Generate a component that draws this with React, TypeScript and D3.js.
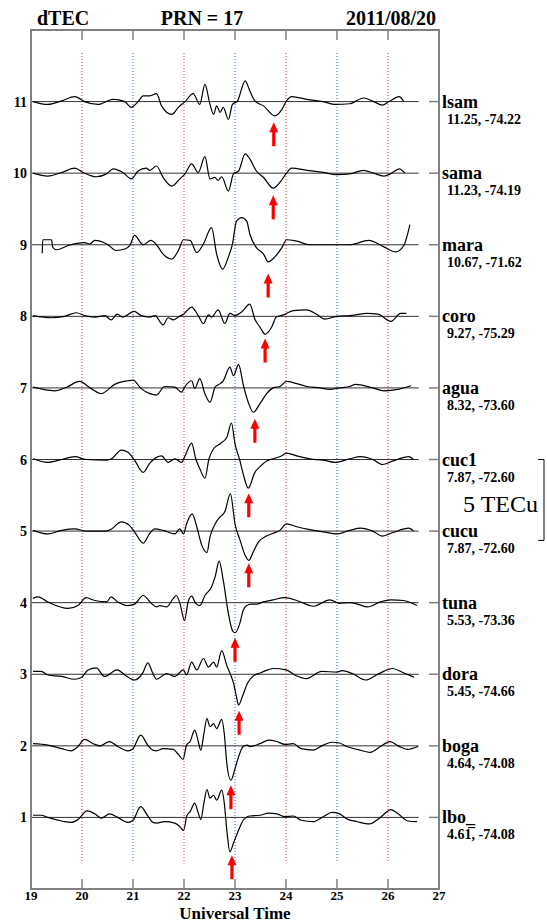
import React, { useEffect, useRef } from 'react';
import * as d3 from 'd3';

// axis ticks
const hourTicks = [19, 20, 21, 22, 23, 24, 25, 26, 27];
const offsetTicks = [1, 2, 3, 4, 5, 6, 7, 8, 9, 10, 11];
const redHours = [20, 22, 24, 26];
const blueHours = [21, 23, 25];

// stations, top to bottom
const stationNames = ['lsam', 'sama', 'mara', 'coro', 'agua', 'cuc1', 'cucu', 'tuna', 'dora', 'boga', 'lbo_'];
const stationCoords = [
  '11.25, -74.22', '11.23, -74.19', '10.67, -71.62', '9.27, -75.29', '8.32, -73.60',
  '7.87, -72.60', '7.87, -72.60', '5.53, -73.36', '5.45, -74.66', '4.64, -74.08', '4.61\u0305, -74.08'
];
const stationOffsets = [11, 10, 9, 8, 7, 6, 5, 4, 3, 2, 1];
const arrowHours = [23.76, 23.75, 23.65, 23.59, 23.39, 23.27, 23.27, 23.0, 23.08, 22.92, 22.94];
const arrowTips = [-0.29, -0.31, -0.40, -0.31, -0.43, -0.47, -0.45, -0.49, -0.51, -0.55, -0.53];

// dTEC traces [UT hour, dTEC in plot units]
const lsam = [[19.04,0],[19.33,-0.04],[19.6,0.01],[19.86,0.07],[20.05,0],[20.31,-0.04],[20.61,0.03],[20.84,0],[20.96,-0.08],[21.1,0],[21.2,0.08],[21.33,0.08],[21.46,0.11],[21.56,-0.06],[21.76,-0.18],[21.89,-0.08],[22.02,0],[22.18,0.11],[22.31,-0.04],[22.41,0.24],[22.51,-0.04],[22.58,-0.18],[22.64,-0.06],[22.71,-0.15],[22.77,-0.08],[22.87,-0.25],[22.95,-0.04],[23.05,0.01],[23.2,0.29],[23.29,0.15],[23.39,0.01],[23.56,-0.06],[23.78,-0.2],[23.92,-0.11],[24.01,0.01],[24.11,0.07],[24.41,0.03],[24.73,0],[24.96,-0.04],[25.25,-0.03],[25.52,0.05],[25.72,0],[25.89,-0.05],[26.02,0],[26.22,0.07],[26.31,0]];
const sama = [[19.04,0],[19.33,-0.04],[19.6,0.01],[19.86,0.07],[20.02,0.01],[20.28,-0.05],[20.48,-0.01],[20.61,0.06],[20.8,0.01],[20.97,-0.08],[21.1,0.03],[21.26,0.07],[21.33,0.04],[21.46,0.1],[21.59,-0.06],[21.76,-0.18],[21.92,-0.08],[22.02,-0.01],[22.15,0.13],[22.28,0.01],[22.41,0.23],[22.51,-0.08],[22.6,-0.06],[22.67,-0.1],[22.74,-0.05],[22.87,-0.25],[22.97,-0.01],[23.07,0.03],[23.2,0.27],[23.29,0.2],[23.42,0.03],[23.56,-0.06],[23.75,-0.21],[23.88,-0.13],[24.01,0],[24.11,0.07],[24.41,0.04],[24.73,0.01],[24.99,-0.02],[25.25,-0.01],[25.52,0.04],[25.72,0],[25.92,-0.04],[26.05,-0.01],[26.22,0.06],[26.33,0]];
const mara = [[19.22,-0.12],[19.23,0.07],[19.4,0.07],[19.43,-0.04],[19.5,-0.07],[19.73,-0.01],[20.05,0.03],[20.15,0.01],[20.25,0.06],[20.51,0],[20.67,-0.08],[20.84,-0.06],[20.94,-0.01],[21.03,0.13],[21.2,0],[21.35,0.06],[21.46,0],[21.59,-0.13],[21.76,-0.2],[21.89,-0.08],[21.99,0.07],[22.12,0.06],[22.25,-0.11],[22.38,0.01],[22.54,0.24],[22.64,-0.13],[22.76,-0.34],[22.87,-0.17],[22.95,0.01],[23.03,0.33],[23.13,0.38],[23.23,0.33],[23.29,0.15],[23.42,-0.04],[23.56,-0.13],[23.65,-0.24],[23.78,-0.17],[23.92,-0.04],[24.01,0.07],[24.21,0.05],[24.47,0],[24.8,0],[25.25,0],[25.62,0.06],[25.92,-0.03],[26.15,-0.1],[26.31,-0.01],[26.43,0.28]];
const coro = [[19.04,0.01],[19.4,-0.02],[19.66,0],[19.89,0.05],[20.05,0.01],[20.25,-0.01],[20.45,0.01],[20.57,-0.05],[20.69,0.03],[20.8,-0.01],[21.02,0.07],[21.16,0.01],[21.33,-0.01],[21.43,0.01],[21.59,-0.12],[21.69,-0.02],[21.79,-0.05],[21.89,-0.01],[21.99,0.03],[22.15,0.13],[22.28,0.01],[22.38,-0.1],[22.48,0.02],[22.54,-0.01],[22.67,0.09],[22.8,-0.1],[22.9,0.04],[23.0,0.01],[23.13,0.06],[23.29,0.17],[23.39,-0.04],[23.49,-0.15],[23.59,-0.25],[23.72,-0.15],[23.81,-0.01],[23.95,0.02],[24.14,0.08],[24.4,0.09],[24.6,0.03],[24.76,-0.04],[24.99,0],[25.25,0.01],[25.6,0.04],[25.8,0.03],[26.06,-0.07],[26.25,0.04],[26.36,0.04]];
const agua = [[19.04,0.01],[19.46,-0.04],[19.7,0.01],[19.95,0.09],[20.18,-0.01],[20.38,-0.08],[20.64,0.05],[20.9,0.1],[21.0,0.11],[21.16,-0.01],[21.33,-0.08],[21.46,-0.1],[21.62,0.02],[21.82,0.01],[21.95,-0.06],[22.02,0.02],[22.15,0.1],[22.21,-0.01],[22.31,0.13],[22.41,-0.08],[22.51,-0.2],[22.61,0.01],[22.71,0.06],[22.77,0.1],[22.9,0.29],[22.97,0.17],[23.07,0.33],[23.16,0.05],[23.26,-0.2],[23.36,-0.34],[23.49,-0.22],[23.62,-0.08],[23.75,0],[23.88,0.02],[24.01,0.09],[24.21,0.06],[24.41,0.02],[24.67,0],[24.86,-0.02],[25.05,0],[25.25,0.02],[25.36,0.05],[25.7,0],[25.92,-0.04],[26.2,-0.02],[26.45,0.03]];
const cuc1 = [[19.04,0.01],[19.33,-0.04],[19.6,0],[19.86,0.04],[20.08,0],[20.48,-0.01],[20.58,0.01],[20.77,0.13],[20.9,0.1],[21.03,-0.01],[21.2,-0.18],[21.33,-0.05],[21.46,0.03],[21.56,0.05],[21.69,-0.04],[21.82,0.01],[21.95,-0.04],[22.02,0.05],[22.15,0.23],[22.23,0.01],[22.31,-0.13],[22.41,-0.26],[22.49,0.01],[22.58,0.15],[22.71,0.22],[22.84,0.31],[22.93,0.51],[23.0,0.22],[23.09,0],[23.16,-0.2],[23.26,-0.4],[23.39,-0.18],[23.49,-0.1],[23.62,-0.02],[23.75,0.01],[23.91,0.05],[24.01,0.09],[24.21,0.05],[24.47,0.01],[24.73,-0.01],[24.96,-0.04],[25.25,0.01],[25.46,0.04],[25.7,0],[25.89,-0.07],[26.1,-0.02],[26.41,0.04],[26.5,0]];
const cucu = [[19.04,0.01],[19.33,-0.04],[19.6,0.01],[19.86,0.03],[20.08,0],[20.48,0],[20.58,0.03],[20.77,0.13],[20.93,0.08],[21.03,-0.01],[21.2,-0.17],[21.33,-0.03],[21.43,0.03],[21.59,0.01],[21.82,-0.04],[21.92,0.03],[21.99,-0.04],[22.05,0.1],[22.16,0.24],[22.25,0.06],[22.35,-0.2],[22.45,-0.3],[22.51,-0.08],[22.61,0.1],[22.71,0.2],[22.8,0.27],[22.91,0.52],[23.0,0.1],[23.1,-0.13],[23.2,-0.34],[23.27,-0.41],[23.36,-0.29],[23.46,-0.15],[23.59,-0.08],[23.75,-0.03],[23.88,0.01],[24.01,0.1],[24.21,0.06],[24.47,0.02],[24.73,-0.01],[24.99,-0.04],[25.25,0.01],[25.46,0.04],[25.7,0],[25.89,-0.07],[26.1,-0.02],[26.41,0.04],[26.5,0]];
const tuna = [[19.04,0.06],[19.14,0.08],[19.33,0.01],[19.73,-0.08],[19.92,-0.04],[20.08,0.07],[20.25,0.03],[20.48,0.01],[20.57,0.08],[20.7,0.01],[20.9,-0.04],[21.03,-0.02],[21.2,0.1],[21.36,-0.01],[21.46,-0.06],[21.52,-0.04],[21.66,-0.06],[21.79,0.06],[21.85,0.1],[21.92,-0.01],[22.01,-0.25],[22.08,0.01],[22.15,0.09],[22.23,-0.01],[22.31,-0.04],[22.41,0.1],[22.54,0.22],[22.61,0.36],[22.69,0.58],[22.77,0.31],[22.87,-0.15],[22.95,-0.39],[23.0,-0.42],[23.09,-0.3],[23.16,-0.11],[23.23,-0.04],[23.32,-0.02],[23.42,-0.02],[23.56,0.01],[23.75,0.04],[23.98,0.07],[24.21,0.03],[24.54,-0.05],[24.86,0.04],[25.05,-0.01],[25.25,0],[25.4,-0.02],[25.6,-0.06],[25.85,0.01],[26.06,0.04],[26.3,0.03],[26.57,-0.04]];
const dora = [[19.04,0.04],[19.2,0.04],[19.33,-0.01],[19.6,-0.03],[19.86,-0.07],[19.98,-0.05],[20.12,0.06],[20.28,0.09],[20.44,-0.03],[20.69,0.06],[20.84,-0.01],[21.03,-0.08],[21.2,0.03],[21.29,0.16],[21.39,0.01],[21.46,-0.07],[21.66,0.01],[21.82,-0.03],[21.99,0.06],[22.05,-0.01],[22.15,0.17],[22.25,0.06],[22.38,0.22],[22.48,0.1],[22.58,0.17],[22.64,0.1],[22.74,0.33],[22.84,0.12],[22.91,0],[22.97,-0.12],[23.03,-0.32],[23.07,-0.43],[23.15,-0.3],[23.25,-0.12],[23.35,-0.03],[23.5,0.02],[23.6,0.05],[23.75,0.08],[24.0,0.06],[24.2,-0.02],[24.4,-0.06],[24.7,0.04],[25.0,0.03],[25.1,0.05],[25.3,0.01],[25.56,-0.08],[25.8,0],[26.09,0.08],[26.3,0.02],[26.51,-0.04]];
const boga = [[19.04,0.03],[19.33,0.01],[19.6,-0.04],[19.79,-0.07],[19.92,-0.01],[20.05,0.09],[20.22,0.03],[20.35,0],[20.54,0.06],[20.7,-0.01],[20.9,-0.07],[21.0,-0.04],[21.15,0.15],[21.29,0.01],[21.39,-0.06],[21.46,-0.07],[21.59,-0.04],[21.79,-0.05],[21.89,-0.12],[21.98,-0.19],[22.05,0.01],[22.12,0.06],[22.21,0.22],[22.28,0.06],[22.33,-0.06],[22.39,0.17],[22.45,0.38],[22.51,0.27],[22.58,0.31],[22.64,0.24],[22.74,0.37],[22.79,0.17],[22.84,-0.25],[22.92,-0.48],[23.0,-0.32],[23.09,-0.11],[23.16,-0.01],[23.24,0.01],[23.29,-0.01],[23.49,0.03],[23.66,0.08],[23.82,0.06],[23.98,0.02],[24.14,0.03],[24.3,-0.04],[24.53,-0.06],[24.73,0.01],[24.9,0.05],[25.05,0.04],[25.19,-0.01],[25.4,-0.05],[25.65,-0.09],[25.85,-0.01],[26.04,0.06],[26.2,0],[26.38,-0.05],[26.59,-0.01]];
const lbo = [[19.04,0.03],[19.2,0.03],[19.33,0],[19.6,-0.05],[19.79,-0.07],[19.92,-0.03],[20.1,0.09],[20.25,0.05],[20.38,-0.01],[20.54,0.05],[20.7,0],[20.9,-0.07],[21.0,-0.04],[21.15,0.15],[21.29,0.02],[21.39,-0.07],[21.46,-0.08],[21.62,-0.06],[21.82,-0.08],[21.92,-0.13],[21.99,-0.18],[22.06,0.03],[22.12,0.08],[22.21,0.2],[22.28,0.06],[22.33,-0.03],[22.39,0.2],[22.45,0.39],[22.51,0.27],[22.58,0.31],[22.64,0.24],[22.74,0.38],[22.79,0.2],[22.84,-0.18],[22.9,-0.48],[22.97,-0.36],[23.07,-0.18],[23.16,-0.04],[23.24,0.01],[23.29,0.02],[23.49,0.03],[23.66,0.06],[23.82,0.05],[23.98,0.01],[24.14,0.02],[24.3,-0.04],[24.53,-0.06],[24.73,0.01],[24.9,0.07],[25.05,0.05],[25.19,-0.02],[25.4,-0.06],[25.64,-0.09],[25.85,0],[26.06,0.11],[26.2,0.05],[26.39,-0.05],[26.57,-0.06]];
const traces = [lsam, sama, mara, coro, agua, cuc1, cucu, tuna, dora, boga, lbo];

const baselineEnd = 26.6;
const dottedRange = [0.36, 11.68];
const scaleBar = [6, 4.87];

const App = () => {
  const ref = useRef<SVGSVGElement | null>(null);

  useEffect(() => {
    const svg = d3.select(ref.current);
    svg.selectAll('*').remove();

    const left = 31, right = 439, top = 30, bottom = 889;
    const x = d3.scaleLinear().domain([19, 27]).range([left, right]);
    const y = d3.scaleLinear().domain([0, 12]).range([bottom, top]);
    const serif = '"Liberation Serif", "Times New Roman", serif';
    const frameColor = '#808080';

    // dotted hour guides
    const guides = [
      ...redHours.map((h) => ({ h, c: '#ff4d4d' })),
      ...blueHours.map((h) => ({ h, c: '#3a7bff' })),
    ];
    svg.append('g').selectAll('line').data(guides).enter().append('line')
      .attr('x1', (d) => x(d.h)).attr('x2', (d) => x(d.h))
      .attr('y1', y(dottedRange[1])).attr('y2', y(dottedRange[0]))
      .attr('stroke', (d) => d.c).attr('stroke-width', 1.2)
      .attr('stroke-dasharray', '1,2');

    // baselines
    svg.append('g').selectAll('line').data(stationOffsets).enter().append('line')
      .attr('x1', x(19)).attr('x2', x(baselineEnd))
      .attr('y1', (d) => y(d)).attr('y2', (d) => y(d))
      .attr('stroke', '#333').attr('stroke-width', 1);

    // traces
    traces.forEach((tr, i) => {
      const off = stationOffsets[i];
      const line = d3.line<number[]>()
        .x((d) => x(d[0]))
        .y((d) => y(off + d[1]))
        .curve(d3.curveMonotoneX);
      svg.append('path').attr('d', line(tr))
        .attr('fill', 'none').attr('stroke', '#000').attr('stroke-width', 1.2);
    });

    // red arrows
    svg.append('g').selectAll('path').data(arrowHours).enter().append('path')
      .attr('d', (h, i) => {
        const tx = x(h);
        const ty = y(stationOffsets[i] + arrowTips[i]);
        return `M${tx},${ty} L${tx + 4.5},${ty + 10} L${tx + 1.6},${ty + 10} L${tx + 1.6},${ty + 24}` +
          ` L${tx - 1.6},${ty + 24} L${tx - 1.6},${ty + 10} L${tx - 4.5},${ty + 10} Z`;
      })
      .attr('fill', '#ff0000');

    // frame
    svg.append('rect').attr('x', left).attr('y', top)
      .attr('width', right - left).attr('height', bottom - top)
      .attr('fill', 'none').attr('stroke', frameColor).attr('stroke-width', 2);

    // top and bottom hour ticks
    const inner = hourTicks.slice(1, -1);
    svg.append('g').selectAll('line').data(inner).enter().append('line')
      .attr('x1', (d) => x(d)).attr('x2', (d) => x(d))
      .attr('y1', top).attr('y2', top + 10)
      .attr('stroke', frameColor).attr('stroke-width', 1.5);
    svg.append('g').selectAll('line').data(inner).enter().append('line')
      .attr('x1', (d) => x(d)).attr('x2', (d) => x(d))
      .attr('y1', bottom).attr('y2', bottom - 10)
      .attr('stroke', frameColor).attr('stroke-width', 1.5);

    // right side ticks
    svg.append('g').selectAll('line').data(offsetTicks).enter().append('line')
      .attr('x1', right - 10).attr('x2', right)
      .attr('y1', (d) => y(d)).attr('y2', (d) => y(d))
      .attr('stroke', frameColor).attr('stroke-width', 1.5);

    // hour labels
    svg.append('g').selectAll('text').data(hourTicks).enter().append('text')
      .attr('x', (d) => x(d)).attr('y', 900)
      .attr('text-anchor', 'middle')
      .style('font-family', serif).style('font-size', '13px').style('font-weight', 'bold')
      .text((d) => d);

    svg.append('text').attr('x', x(23)).attr('y', 919)
      .attr('text-anchor', 'middle')
      .style('font-family', serif).style('font-size', '17px').style('font-weight', 'bold')
      .text('Universal Time');

    // offset labels
    svg.append('g').selectAll('text').data(offsetTicks).enter().append('text')
      .attr('x', 27).attr('y', (d) => y(d) + 5)
      .attr('text-anchor', 'end')
      .style('font-family', serif).style('font-size', '14px').style('font-weight', 'bold')
      .text((d) => d);

    // station names and coordinates
    svg.append('g').selectAll('text').data(stationNames).enter().append('text')
      .attr('x', right + 3).attr('y', (d, i) => y(stationOffsets[i]) + 6)
      .style('font-family', serif).style('font-size', '18px').style('font-weight', 'bold')
      .text((d) => d);
    svg.append('g').selectAll('text').data(stationCoords).enter().append('text')
      .attr('x', right + 8).attr('y', (d, i) => y(stationOffsets[i]) + 22)
      .style('font-family', serif).style('font-size', '14px').style('font-weight', 'bold')
      .text((d) => d);

    // header
    const header = [
      { t: 'dTEC', x: 37, a: 'start' },
      { t: 'PRN = 17', x: 202, a: 'middle' },
      { t: '2011/08/20', x: 436, a: 'end' },
    ];
    svg.append('g').selectAll('text').data(header).enter().append('text')
      .attr('x', (d) => d.x).attr('y', 25)
      .attr('text-anchor', (d) => d.a)
      .style('font-family', serif).style('font-size', '20px').style('font-weight', 'bold')
      .text((d) => d.t);

    // 5 TECu scale bar
    const barX = 544;
    const g = svg.append('g').attr('stroke', '#000').attr('stroke-width', 1);
    g.append('line').attr('x1', barX).attr('x2', barX).attr('y1', y(scaleBar[0])).attr('y2', y(scaleBar[1]));
    g.append('line').attr('x1', barX - 6).attr('x2', barX).attr('y1', y(scaleBar[0])).attr('y2', y(scaleBar[0]));
    g.append('line').attr('x1', barX - 6).attr('x2', barX).attr('y1', y(scaleBar[1])).attr('y2', y(scaleBar[1]));
    svg.append('text').attr('x', 538).attr('y', 512)
      .attr('text-anchor', 'end')
      .style('font-family', serif).style('font-size', '24px')
      .text('5 TECu');
  }, []);

  return (
    <svg ref={ref} width={547} height={923}
      style={{ position: 'absolute', left: 0, top: 0, background: '#fff' }} />
  );
};

export default App;
